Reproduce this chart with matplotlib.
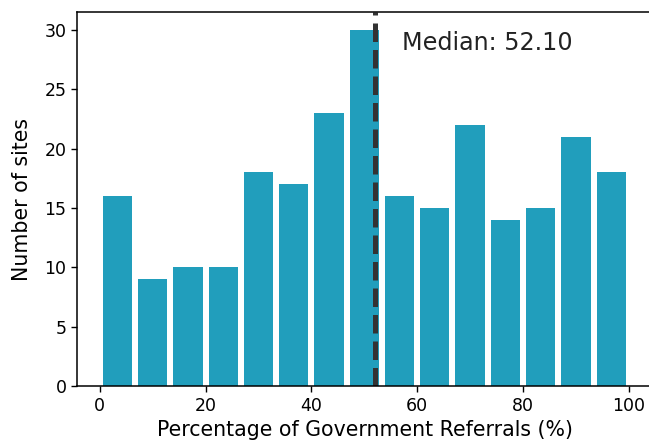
import matplotlib
matplotlib.use('Agg')
import numpy as np
import matplotlib.pyplot as plt

# site counts per bin of government-referral percentage
bin_edges = np.linspace(0, 100, 16)
counts = [16, 9, 10, 10, 18, 17, 23, 30, 16, 15, 22, 14, 15, 21, 18]
median_pct = 52.10

fig = plt.figure(figsize=(6.49, 4.45), dpi=100)
ax = fig.add_axes([0.119, 0.1326, 0.8875, 0.8404])

widths = np.diff(bin_edges)
centers = bin_edges[:-1] + widths / 2
ax.bar(centers, counts, width=widths * 0.83, color='#219ebc')

ax.axvline(median_pct, color='#333333', linestyle='--', linewidth=3.6)
ax.text(57.1, 28.3, f'Median: {median_pct:.2f}', fontsize=17.2, va='baseline',
        color='#222222')

ax.set_xlim(-4.24, 104.6)
ax.set_ylim(0, 31.5)
ax.set_xlabel('Percentage of Government Referrals (%)', fontsize=14.8)
ax.set_ylabel('Number of sites', fontsize=14.8, labelpad=9)
ax.tick_params(labelsize=12.5, length=4.3, width=1)
for sp in ax.spines.values():
    sp.set_linewidth(1.1)

fig.savefig('out.png', dpi=100)
